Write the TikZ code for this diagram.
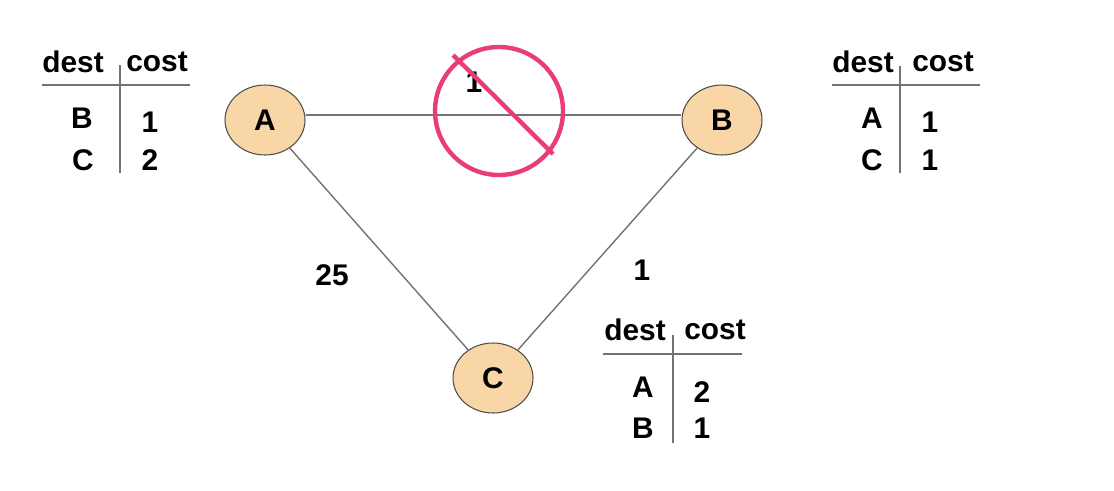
\documentclass[tikz,border=0pt]{standalone}
\usepackage{fontspec}
\setmainfont{Liberation Sans}
\usetikzlibrary{shapes.geometric}

\definecolor{peach}{RGB}{249,214,166}
\definecolor{nogo}{RGB}{234,60,120}

\begin{document}
\begin{tikzpicture}[x=0.02cm,y=-0.02cm,
  every node/.style={font=\bfseries\fontsize{17}{20}\selectfont,inner sep=1pt},
  router/.style={ellipse,draw=black!70,line width=0.6pt,fill=peach,
    minimum width=1.6cm,minimum height=1.4cm},
  link/.style={draw=black!55,line width=0.8pt},
  rule/.style={draw=black!55,line width=0.9pt},
  cross/.style={draw=nogo,line width=2.5pt}]
\useasboundingbox (0,0) rectangle (1114,490);
% routers
\node[router] (A) at (265,120) {A};
\node[router] (B) at (722,120) {B};
\node[router] (C) at (493,378) {C};
% links
\draw[link] ([yshift=0.1cm]A.east) -- ([yshift=0.1cm]B.west);
\draw[link] (A) -- (C);
\draw[link] (B) -- (C);
\node (wAB) at (474,82) {1};
\node (wAC) at (332,275) {25};
\node (wBC) at (642,270) {1};
% broken link
\draw[cross] (499,111) circle[radius=1.28cm];
\draw[cross] (453,55) -- (553,154);
% table at A
\node (Adest) at (73,62) {dest};
\node (Acost) at (157,62) {cost};
\node (Ad1) at (82,118) {B};
\node (Ac1) at (150,122) {1};
\node (Ad2) at (83,160) {C};
\node (Ac2) at (150,160) {2};
\draw[rule] (42,85) -- (190,85);
\draw[rule] (120,65) -- (120,173);
% table at B
\node (Bdest) at (863,62) {dest};
\node (Bcost) at (943,62) {cost};
\node (Bd1) at (872,118) {A};
\node (Bc1) at (930,122) {1};
\node (Bd2) at (872,160) {C};
\node (Bc2) at (930,160) {1};
\draw[rule] (832,85) -- (980,85);
\draw[rule] (900,66) -- (900,173);
% table at C
\node (Cdest) at (635,330) {dest};
\node (Ccost) at (715,330) {cost};
\node (Cd1) at (643,387) {A};
\node (Cc1) at (702,392) {2};
\node (Cd2) at (643,428) {B};
\node (Cc2) at (702,428) {1};
\draw[rule] (603,354) -- (742,354);
\draw[rule] (673,335) -- (673,443);
\end{tikzpicture}
\end{document}
